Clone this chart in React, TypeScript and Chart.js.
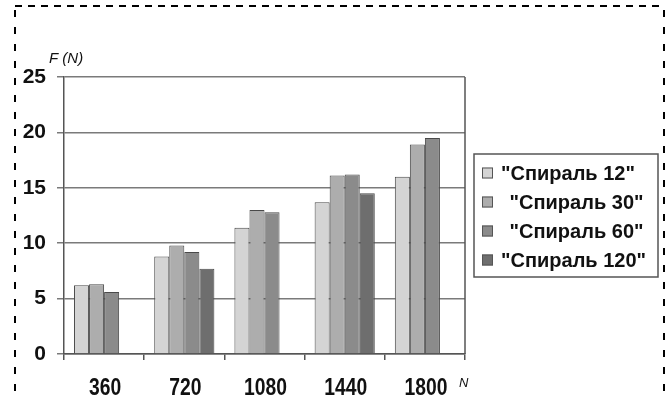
import React, { useEffect, useRef } from "react";
import { Chart, registerables } from "chart.js";

Chart.register(...registerables);

const categories = ["360", "720", "1080", "1440", "1800"];
const seriesLabels = ['"Спираль 12"', ' "Спираль 30"', ' "Спираль 60"', '"Спираль 120"'];
const spiral12 = [6.2, 8.8, 11.4, 13.7, 16.0];
const spiral30 = [6.3, 9.8, 13.0, 16.1, 18.9];
const spiral60 = [5.6, 9.2, 12.8, 16.2, 19.5];
const spiral120 = [null, 7.7, null, 14.5, null];
const yTicks = [0, 5, 10, 15, 20, 25];
const colors = ["#d4d4d4", "#adadad", "#8b8b8b", "#6e6e6e"];

const FONT = "'Liberation Sans', Arial, sans-serif";

const decorPlugin = {
  id: "decor",
  beforeDraw(chart: any) {
    const ctx = chart.ctx;
    ctx.save();
    ctx.fillStyle = "#ffffff";
    ctx.fillRect(0, 0, chart.width, chart.height);
    ctx.restore();
  },
  afterDraw(chart: any) {
    const ctx = chart.ctx;
    const a = chart.chartArea;
    ctx.save();
    // right border of plot
    ctx.strokeStyle = "#555555";
    ctx.lineWidth = 1.5;
    ctx.beginPath();
    ctx.moveTo(a.right, a.top);
    ctx.lineTo(a.right, a.bottom);
    ctx.stroke();

    // x category labels (condensed bold), positioned by the x scale
    const xs = chart.scales.x;
    ctx.fillStyle = "#111111";
    ctx.font = "bold 23px " + FONT;
    ctx.textAlign = "center";
    ctx.textBaseline = "alphabetic";
    chart.data.labels.forEach((lab: string, i: number) => {
      const px = xs.getPixelForValue(i);
      ctx.save();
      ctx.translate(px + 1, 395);
      ctx.scale(0.84, 1);
      ctx.fillText(lab, 0, 0);
      ctx.restore();
    });

    // axis titles
    ctx.textAlign = "left";
    ctx.font = "italic 15px " + FONT;
    ctx.fillText("F (N)", 49, 63);
    ctx.font = "italic 13px " + FONT;
    ctx.fillText("N", 459, 387);

    // legend
    const lx = 474, ly = 154, lw = 184, lh = 123;
    ctx.strokeStyle = "#555555";
    ctx.lineWidth = 1.5;
    ctx.strokeRect(lx, ly, lw, lh);
    const ys = [173, 202, 231, 260];
    const tx = [501, 504, 504, 501];
    chart.data.datasets.forEach((ds: any, i: number) => {
      ctx.fillStyle = colors[i];
      ctx.fillRect(482, ys[i] - 5.5, 11, 11);
      ctx.strokeStyle = "#555555";
      ctx.lineWidth = 1;
      ctx.strokeRect(482.5, ys[i] - 5, 10, 10);
      ctx.fillStyle = "#111111";
      ctx.font = "bold 20px " + FONT;
      ctx.textBaseline = "middle";
      ctx.fillText(ds.label, tx[i], ys[i] + 1);
    });

    // dashed frame
    ctx.strokeStyle = "#000000";
    ctx.lineWidth = 2;
    ctx.setLineDash([7, 6]);
    ctx.beginPath();
    ctx.moveTo(15, 6);
    ctx.lineTo(664, 6);
    ctx.stroke();
    ctx.setLineDash([7, 10]);
    ctx.beginPath();
    ctx.moveTo(15, 10);
    ctx.lineTo(15, 401);
    ctx.moveTo(664, 10);
    ctx.lineTo(664, 401);
    ctx.stroke();
    ctx.restore();
  },
};

export default function App() {
  const ref = useRef<HTMLCanvasElement | null>(null);
  useEffect(() => {
    document.body.style.margin = "0";
    const canvas = ref.current;
    if (!canvas) return;
    const mk = (label: string, data: any[], i: number) => ({
      label,
      data,
      backgroundColor: colors[i],
      borderColor: "#4a4a4a",
      borderWidth: 1,
      categoryPercentage: 0.75,
      barPercentage: 1.0,
    });
    const chart = new Chart(canvas, {
      type: "bar",
      data: {
        labels: categories,
        datasets: [
          mk(seriesLabels[0], spiral12, 0),
          mk(seriesLabels[1], spiral30, 1),
          mk(seriesLabels[2], spiral60, 2),
          mk(seriesLabels[3], spiral120, 3),
        ],
      },
      options: {
        animation: false,
        responsive: false,
        devicePixelRatio: 1,
        layout: { padding: { top: 77, right: 207, left: 0, bottom: 0 } },
        plugins: { legend: { display: false }, tooltip: { enabled: false } },
        scales: {
          x: {
            grid: {
              offset: true,
              drawOnChartArea: false,
              drawTicks: true,
              tickLength: 6,
              color: "#555555",
              lineWidth: 1.5,
            },
            border: { color: "#555555", width: 1.5 },
            ticks: {
              color: "rgba(0,0,0,0)",
              padding: 14,
              font: { family: FONT, size: 21, weight: "bold" },
            },
            afterFit: (s: any) => {
              s.height = 47;
            },
          },
          y: {
            min: 0,
            max: 25,
            afterBuildTicks: (s: any) => {
              s.ticks = yTicks.map((v) => ({ value: v }));
            },
            grid: {
              color: "#7a7a7a",
              lineWidth: 1.5,
              tickLength: 7,
              drawTicks: true,
            },
            border: { color: "#555555", width: 1.5 },
            ticks: {
              color: "#111111",
              padding: 11,
              font: { family: FONT, size: 21, weight: "bold" },
            },
            afterFit: (s: any) => {
              s.width = 64;
            },
          },
        },
      },
      plugins: [decorPlugin],
    } as any);
    return () => chart.destroy();
  }, []);
  return (
    <div style={{ width: 672, height: 401 }}>
      <canvas ref={ref} width={672} height={401} style={{ display: "block" }} />
    </div>
  );
}
